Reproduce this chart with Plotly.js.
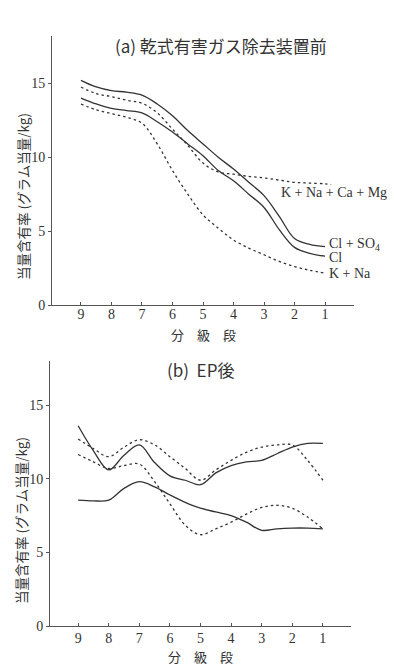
<!DOCTYPE html>
<html>
<head>
<meta charset="utf-8">
<script src="https://cdn.plot.ly/plotly-3.0.1.min.js"></script>
<style>html,body{margin:0;padding:0;background:#fff;}#chart{width:394px;height:667px;}</style>
</head>
<body>
<div id="chart"></div>
<script>
// ---- data ----
const stages = [9, 8.5, 8, 7.5, 7, 6.5, 6, 5.5, 5, 4.5, 4, 3.5, 3, 2.5, 2, 1.5, 1];
const stagesExt = [9, 8.5, 8, 7.5, 7, 6.5, 6, 5.5, 5, 4.5, 4, 3.5, 3, 2.5, 2, 1.5, 1, 0.8];
const tickStages = [9, 8, 7, 6, 5, 4, 3, 2, 1];
const tickLabels = ['9', '8', '7', '6', '5', '4', '3', '2', '1'];
const yTicks = [0, 5, 10, 15];

// (a) before dry harmful-gas removal equipment
const aClSO4   = [15.2, 14.75, 14.5, 14.4, 14.2, 13.6, 12.8, 11.8, 10.9, 10.0, 9.2, 8.3, 7.4, 6.0, 4.5, 4.1, 3.95];
const aCl      = [14.0, 13.6, 13.3, 13.15, 13.0, 12.4, 11.7, 10.9, 10.1, 9.1, 8.4, 7.5, 6.6, 5.1, 3.9, 3.5, 3.3];
const aKNaCaMg = [14.75, 14.3, 14.1, 13.85, 13.65, 13.0, 11.9, 10.8, 9.6, 9.0, 8.85, 8.7, 8.6, 8.45, 8.3, 8.25, 8.2, 8.15];
const aKNa     = [13.6, 13.2, 12.95, 12.7, 12.3, 10.9, 9.1, 7.5, 6.1, 5.2, 4.4, 3.85, 3.4, 2.95, 2.6, 2.35, 2.15];
const aLabels  = ['K + Na + Ca + Mg', 'Cl + SO<sub>4</sub>', 'Cl', 'K + Na'];
const aLabelX  = [2.5, 0.93, 0.93, 0.93];
const aLabelY  = [7.64, 4.12, 3.24, 2.16];

// (b) after EP
const bSolidUpper = [13.6, 11.9, 10.6, 11.6, 12.3, 11.1, 10.2, 9.9, 9.6, 10.4, 10.9, 11.15, 11.25, 11.7, 12.15, 12.4, 12.4];
const bSolidLower = [8.55, 8.5, 8.55, 9.35, 9.8, 9.45, 8.9, 8.4, 8.0, 7.75, 7.5, 7.05, 6.5, 6.6, 6.65, 6.65, 6.6];
const bDashUpper  = [12.7, 12.05, 11.5, 12.15, 12.65, 12.3, 11.5, 10.7, 9.9, 10.6, 11.25, 11.8, 12.15, 12.3, 12.3, 11.25, 9.9];
const bDashLower  = [11.65, 11.15, 10.7, 10.9, 11.0, 9.8, 8.3, 6.85, 6.2, 6.6, 7.05, 7.6, 8.05, 8.2, 8.0, 7.4, 6.6];

const titleA = '(a) 乾式有害ガス除去装置前';
const titleB = '(b)  EP後';
const yTitle = '当量含有率 (グラム当量/kg)';
const xTitle = '分　級　段';

// ---- styles ----
const FONT = '"Liberation Serif", "DejaVu Serif", "Noto Sans CJK JP", serif';
const CJK = '"Noto Sans CJK JP", "Liberation Serif", serif';
const INK = '#333333';
const solid = {color: INK, width: 1.3, shape: 'spline', smoothing: 1};
const dashed = {color: INK, width: 1.3, shape: 'spline', smoothing: 1, dash: '2.5px,3px'};

function tr(x, y, line, xa, ya) {
  return {x: x, y: y, type: 'scatter', mode: 'lines', line: line, xaxis: xa, yaxis: ya, hoverinfo: 'skip', showlegend: false};
}

const data = [
  tr(stages, aClSO4, solid, 'x', 'y'),
  tr(stages, aCl, solid, 'x', 'y'),
  tr(stagesExt, aKNaCaMg, dashed, 'x', 'y'),
  tr(stages, aKNa, dashed, 'x', 'y'),
  tr(stages, bSolidUpper, solid, 'x2', 'y2'),
  tr(stages, bSolidLower, solid, 'x2', 'y2'),
  tr(stages, bDashUpper, dashed, 'x2', 'y2'),
  tr(stages, bDashLower, dashed, 'x2', 'y2')
];

function xAxis(domain, range, anchor, standoff) {
  return {
    domain: domain, range: range, anchor: anchor,
    tickvals: tickStages, ticktext: tickLabels,
    ticks: 'inside', ticklen: 3, tickwidth: 1, tickcolor: '#555',
    ticklabelstandoff: standoff,
    showline: true, linecolor: '#555', linewidth: 1,
    showgrid: false, zeroline: false,
    tickfont: {family: FONT, size: 14, color: '#333'}
  };
}
function yAxis(domain, range, anchor) {
  return {
    domain: domain, range: range, anchor: anchor,
    tickvals: yTicks, ticktext: yTicks.map(String),
    ticks: 'outside', ticklen: 3, tickwidth: 1, tickcolor: '#555',
    showline: true, linecolor: '#555', linewidth: 1,
    showgrid: false, zeroline: false,
    tickfont: {family: FONT, size: 14, color: '#333'}
  };
}

const annotations = [];
function pann(text, px, py, opts) {
  annotations.push(Object.assign({
    text: text, xref: 'paper', yref: 'paper',
    x: px / 394, y: 1 - py / 667, showarrow: false,
    xanchor: 'center', yanchor: 'middle',
    font: {family: CJK, size: 13, color: '#333'}
  }, opts || {}));
}
pann(titleA, 221, 45, {font: {family: CJK, size: 17, color: '#333'}});
pann(titleB, 200, 369, {font: {family: CJK, size: 17, color: '#333'}});
pann(yTitle, 23, 197, {textangle: -90, font: {family: CJK, size: 13.5, color: '#333'}});
pann(yTitle, 21, 521, {textangle: -90, font: {family: CJK, size: 13.5, color: '#333'}});
pann(xTitle, 203, 334, {font: {family: CJK, size: 13, color: '#333'}});
pann(xTitle, 200, 656, {font: {family: CJK, size: 13, color: '#333'}});

aLabels.forEach(function (t, i) {
  annotations.push({
    text: t, xref: 'x', yref: 'y', x: aLabelX[i], y: aLabelY[i],
    showarrow: false, xanchor: 'left', yanchor: 'middle',
    font: {family: FONT, size: 14, color: '#333'}
  });
});

const layout = {
  width: 394, height: 667,
  margin: {l: 0, r: 0, t: 0, b: 0, pad: 0},
  paper_bgcolor: '#ffffff', plot_bgcolor: '#ffffff',
  showlegend: false,
  xaxis: xAxis([52 / 394, 354 / 394], [9.95, 0.05], 'y', -4),
  yaxis: yAxis([1 - 305 / 667, 1 - 36 / 667], [0, 18.2], 'x'),
  xaxis2: xAxis([50 / 394, 351 / 394], [9.92, 0.08], 'y2', -1),
  yaxis2: yAxis([1 - 626 / 667, 1 - 361 / 667], [0, 18.0], 'x2'),
  annotations: annotations
};

Plotly.newPlot('chart', data, layout, {staticPlot: true, displayModeBar: false});
</script>
</body>
</html>
